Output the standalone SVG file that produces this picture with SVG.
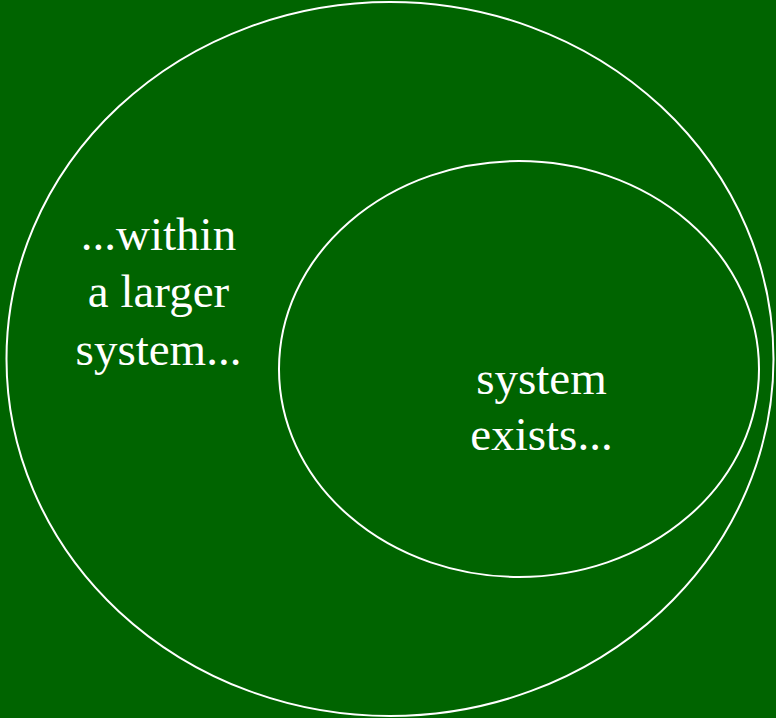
<svg xmlns="http://www.w3.org/2000/svg" width="776" height="718" viewBox="0 0 776 718">
<style>
.c{fill:none;stroke:#ffffff;stroke-width:2}
.t{font-family:"Liberation Serif","Times New Roman",serif;font-size:47px;fill:#ffffff;text-anchor:middle}
</style>
<rect width="776" height="718" fill="#006400"/>
<g id="outer">
<ellipse class="c" cx="390" cy="359" rx="383.5" ry="357"/>
<text class="t" x="158.5" y="250">...within</text>
<text class="t" x="158.5" y="307">a larger</text>
<text class="t" x="158.5" y="365">system...</text>
</g>
<g id="inner">
<ellipse class="c" cx="519" cy="369" rx="240" ry="208"/>
<text class="t" x="541.5" y="394">system</text>
<text class="t" x="541.5" y="450">exists...</text>
</g>
<g id="connectors"/>
</svg>
